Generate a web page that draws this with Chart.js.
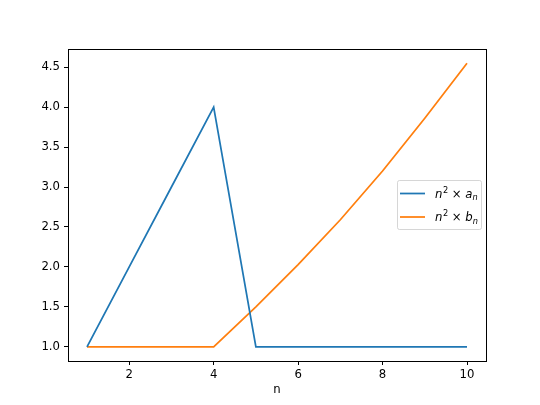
<!DOCTYPE html>
<html>
<head>
<meta charset="utf-8">
<script src="https://cdn.jsdelivr.net/npm/chart.js@4.4.0/dist/chart.umd.min.js"></script>
<style>
  html, body { margin: 0; padding: 0; background: #fff; }
  canvas { display: block; }
</style>
</head>
<body>
<canvas id="seqChart" width="540" height="405"></canvas>
<script>
// values
const nValues = [1, 2, 3, 4, 5, 6, 7, 8, 9, 10];
const anValues = [1, 2, 3, 4, 1, 1, 1, 1, 1, 1];
const bnValues = [1, 1, 1, 1, 1.5, 2.03, 2.59, 3.2, 3.86, 4.55];
const xTicks = [2, 4, 6, 8, 10];
const yTicks = [1.0, 1.5, 2.0, 2.5, 3.0, 3.5, 4.0, 4.5];
const seriesNames = ['a', 'b'];

const FONT = 'DejaVu Sans';
const colors = ['#1f77b4', '#ff7f0e'];

function toPoints(ys) {
    return nValues.map((n, i) => ({ x: n, y: ys[i] }));
}

// box around the plot area, like matplotlib spines
const framePlugin = {
    id: 'frame',
    afterDatasetsDraw(chart) {
        const a = chart.chartArea;
        const ctx = chart.ctx;
        ctx.save();
        ctx.strokeStyle = '#000';
        ctx.lineWidth = 1;
        ctx.strokeRect(Math.round(a.left) + 0.5, Math.round(a.top) + 0.5,
            Math.round(a.right - a.left), Math.round(a.bottom - a.top));
        ctx.restore();
    }
};

// legend with n^2 x a_n style labels
const mathLegend = {
    id: 'mathLegend',
    afterDraw(chart) {
        const ctx = chart.ctx;
        const bx = 397, by = 180, bw = 84, bh = 49;
        ctx.save();
        ctx.fillStyle = 'rgba(255,255,255,0.8)';
        ctx.strokeStyle = 'rgba(204,204,204,0.8)';
        ctx.lineWidth = 1;
        ctx.beginPath();
        ctx.roundRect(bx + 0.5, by + 0.5, bw, bh, 2);
        ctx.fill();
        ctx.stroke();

        chart.data.datasets.forEach((ds, i) => {
            const cy = by + 13.5 + i * 23.5;
            ctx.strokeStyle = ds.borderColor;
            ctx.lineWidth = ds.borderWidth;
            ctx.beginPath();
            ctx.moveTo(400, cy);
            ctx.lineTo(425, cy);
            ctx.stroke();

            ctx.fillStyle = '#000';
            ctx.textBaseline = 'alphabetic';
            ctx.textAlign = 'left';
            let x = 435;
            const base = cy + 4;
            ctx.font = 'italic 11.7px "' + FONT + '"';
            ctx.fillText('n', x, base);
            x += ctx.measureText('n').width + 0.5;
            ctx.font = '8.2px "' + FONT + '"';
            ctx.fillText('2', x, base - 5);
            x += ctx.measureText('2').width;
            ctx.font = '11.7px "' + FONT + '"';
            ctx.fillText(' \u00d7 ', x, base);
            x += ctx.measureText(' \u00d7 ').width;
            ctx.font = 'italic 11.7px "' + FONT + '"';
            ctx.fillText(seriesNames[i], x, base);
            x += ctx.measureText(seriesNames[i]).width;
            ctx.font = 'italic 8.2px "' + FONT + '"';
            ctx.fillText('n', x, base + 2.5);
        });
        ctx.restore();
    }
};

const ctx = document.getElementById('seqChart').getContext('2d');
new Chart(ctx, {
    type: 'line',
    data: {
        datasets: [
            {
                label: 'n\u00b2 \u00d7 a\u2099',
                data: toPoints(anValues),
                borderColor: colors[0],
                backgroundColor: colors[0],
                borderWidth: 1.75,
                pointRadius: 0,
                tension: 0,
                fill: false
            },
            {
                label: 'n\u00b2 \u00d7 b\u2099',
                data: toPoints(bnValues),
                borderColor: colors[1],
                backgroundColor: colors[1],
                borderWidth: 1.75,
                pointRadius: 0,
                tension: 0,
                fill: false
            }
        ]
    },
    options: {
        responsive: false,
        animation: false,
        devicePixelRatio: 1,
        layout: { padding: { left: 0, right: 54, top: 49, bottom: 0 } },
        plugins: {
            legend: { display: false },
            tooltip: { enabled: false }
        },
        scales: {
            x: {
                type: 'linear',
                min: 0.55,
                max: 10.45,
                afterFit: (s) => { s.height = 44; },
                afterBuildTicks: (s) => { s.ticks = xTicks.map(v => ({ value: v })); },
                grid: { drawOnChartArea: false, drawTicks: true, tickLength: 4, color: '#000', lineWidth: 1 },
                border: { display: true, color: '#000', width: 1 },
                ticks: {
                    color: '#000',
                    padding: 3,
                    maxRotation: 0,
                    font: { family: FONT, size: 11.7 },
                    callback: (v) => String(v)
                },
                title: {
                    display: true,
                    text: 'n',
                    color: '#000',
                    font: { family: FONT, size: 11.7 },
                    padding: { top: 0, bottom: 8 }
                }
            },
            y: {
                type: 'linear',
                min: 0.8225,
                max: 4.7275,
                afterFit: (s) => { s.width = 68; },
                afterBuildTicks: (s) => { s.ticks = yTicks.map(v => ({ value: v })); },
                grid: { drawOnChartArea: false, drawTicks: true, tickLength: 4, color: '#000', lineWidth: 1 },
                border: { display: true, color: '#000', width: 1 },
                ticks: {
                    color: '#000',
                    padding: 4,
                    font: { family: FONT, size: 11.7 },
                    callback: (v) => Number(v).toFixed(1)
                }
            }
        }
    },
    plugins: [framePlugin, mathLegend]
});
</script>
</body>
</html>
